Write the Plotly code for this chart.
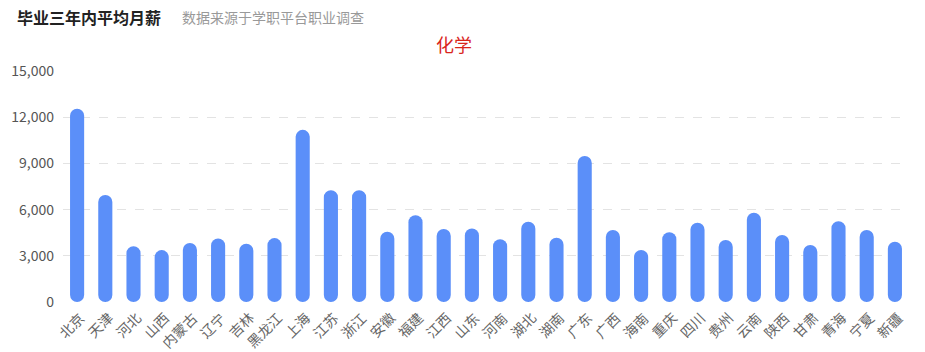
import plotly.graph_objects as go

provinces = ["北京", "天津", "河北", "山西", "内蒙古", "辽宁", "吉林", "黑龙江", "上海", "江苏",
             "浙江", "安徽", "福建", "江西", "山东", "河南", "湖北", "湖南", "广东", "广西",
             "海南", "重庆", "四川", "贵州", "云南", "陕西", "甘肃", "青海", "宁夏", "新疆"]
salary = [12550, 6950, 3620, 3370, 3830, 4120, 3780, 4150, 11180, 7260,
          7260, 4560, 5640, 4740, 4780, 4070, 5210, 4170, 9480, 4680,
          3380, 4530, 5150, 4030, 5800, 4350, 3700, 5240, 4680, 3920]
y_ticks = [0, 3000, 6000, 9000, 12000, 15000]

FONT = "Noto Sans CJK SC, Microsoft YaHei, sans-serif"
BAR = "#5b8ff9"

W, H = 925, 352
ML, MR, MT, MB = 63, 16, 71, 50
plot_h = H - MT - MB
plot_w = W - ML - MR
YMAX = 15000
bar_px = plot_w / len(provinces) * 0.5
radius = bar_px / 2

fig = go.Figure()
fig.add_trace(go.Bar(x=provinces, y=salary, base=[0] * len(salary),
                     marker=dict(color=BAR, line=dict(width=0), cornerradius=radius),
                     hovertemplate="%{x}: %{y}<extra></extra>", showlegend=False))

def px(x):
    return (x - ML) / plot_w
def py(y):
    return (H - MB - y) / plot_h

# rotated category labels (placed on the category axis positions)
cat_labels = [
    dict(text=p, x=p, y=0, xref="x", yref="y", textangle=-45,
         xanchor="right", yanchor="top", xshift=14, yshift=-3, showarrow=False,
         font=dict(size=14, color="#666666", family=FONT))
    for p in provinces
]

fig.update_layout(
    width=W, height=H,
    margin=dict(l=ML, r=MR, t=MT, b=MB, autoexpand=False),
    paper_bgcolor="white", plot_bgcolor="white",
    bargap=0.5,
    font=dict(family=FONT, color="#666666", size=12),
    xaxis=dict(range=[-0.5, len(provinces) - 0.5], automargin=False, showticklabels=False,
               showgrid=False, showline=False, ticks="", zeroline=False),
    yaxis=dict(range=[0, YMAX], tickvals=y_ticks, tickformat=",d", automargin=False,
               tickfont=dict(size=14, color="#555555"),
               showgrid=True, gridcolor="#e3e3e3", griddash="dash", gridwidth=1,
               zeroline=False, showline=False, ticks="", ticklabelstandoff=8),
    annotations=[
        dict(text="<b>毕业三年内平均月薪</b>", x=px(15), y=py(17), xref="paper", yref="paper",
             xanchor="left", yanchor="middle", showarrow=False,
             font=dict(size=16, color="#222222", family=FONT)),
        dict(text="数据来源于学职平台职业调查", x=px(180), y=py(17), xref="paper", yref="paper",
             xanchor="left", yanchor="middle", showarrow=False,
             font=dict(size=14, color="#999999", family=FONT)),
        dict(text="化学", x=px(454), y=py(44), xref="paper", yref="paper",
             xanchor="center", yanchor="middle", showarrow=False,
             font=dict(size=18, color="#d9261c", family=FONT)),
    ] + cat_labels,
)

fig.write_html("out.html")
